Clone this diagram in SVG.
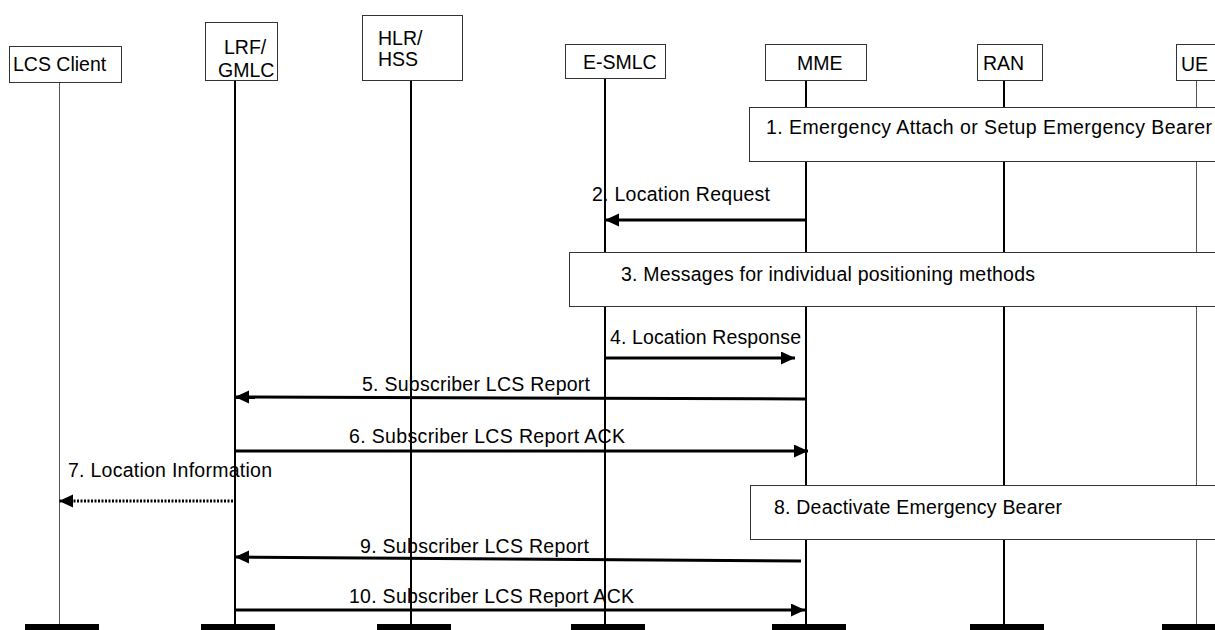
<svg xmlns="http://www.w3.org/2000/svg" width="1215" height="630" viewBox="0 0 1215 630">
<defs>
<style>
text{font-family:"Liberation Sans",Arial,sans-serif;font-size:19.5px;fill:#000}
.box{fill:#fff;stroke:#333;stroke-width:1}
.life{stroke:#000;stroke-width:2}
.thin{stroke:#555;stroke-width:1}
.bar{fill:#000}
.msg{stroke:#000;stroke-width:3;fill:none;marker-end:url(#ah)}
.dot{stroke:#000;stroke-width:3;fill:none;stroke-dasharray:2 1.5;marker-end:url(#ah)}
</style>
<marker id="ah" markerUnits="userSpaceOnUse" markerWidth="15" markerHeight="14" refX="14" refY="6.5" orient="auto">
<path d="M0,0 L14,6.5 L0,13 z" fill="#000"/>
</marker>
</defs>
<rect width="1215" height="630" fill="#fff"/>
<g id="lifelines">
<line class="thin" x1="59.5" y1="82" x2="59.5" y2="626"/>
<line class="life" x1="235" y1="80" x2="235" y2="626"/>
<line class="life" x1="411" y1="80" x2="411" y2="626"/>
<line class="life" x1="605" y1="78" x2="605" y2="626"/>
<line class="life" x1="806" y1="80" x2="806" y2="626"/>
<line class="life" x1="1004" y1="80" x2="1004" y2="626"/>
<line class="thin" x1="1196.5" y1="80" x2="1196.5" y2="626"/>
</g>
<g id="bars">
<rect class="bar" x="25" y="624" width="74" height="6"/>
<rect class="bar" x="201" y="624" width="74" height="6"/>
<rect class="bar" x="377" y="624" width="74" height="6"/>
<rect class="bar" x="571" y="624" width="74" height="6"/>
<rect class="bar" x="772" y="624" width="74" height="6"/>
<rect class="bar" x="970" y="624" width="74" height="6"/>
<rect class="bar" x="1162" y="624" width="60" height="6"/>
</g>
<g id="lcsclient"><rect class="box" x="9.5" y="46.5" width="112" height="36"/><text x="13" y="71">LCS Client</text></g>
<g id="gmlc"><rect class="box" x="205.5" y="22.5" width="72" height="58"/><text x="224" y="54">LRF/</text><text x="218" y="77">GMLC</text></g>
<g id="hlr"><rect class="box" x="362.5" y="15.5" width="100" height="65"/><text x="378" y="45">HLR/</text><text x="378" y="66">HSS</text></g>
<g id="esmlc"><rect class="box" x="565.5" y="44.5" width="100" height="34"/><text x="583" y="69">E-SMLC</text></g>
<g id="mme"><rect class="box" x="765.5" y="44.5" width="101" height="36"/><text x="797" y="70">MME</text></g>
<g id="ran"><rect class="box" x="977.5" y="44.5" width="65" height="36"/><text x="983" y="70">RAN</text></g>
<g id="ue"><rect class="box" x="1176.5" y="44.5" width="60" height="36"/><text x="1181" y="71">UE</text></g>
<g id="step1"><rect class="box" x="749.5" y="107.5" width="500" height="54"/><text x="766" y="134" textLength="446" lengthAdjust="spacing">1. Emergency Attach or Setup Emergency Bearer</text></g>
<g id="step3"><rect class="box" x="569.5" y="252.5" width="700" height="54"/><text x="621" y="281" textLength="414" lengthAdjust="spacing">3. Messages for individual positioning methods</text></g>
<g id="step8"><rect class="box" x="750.5" y="485.5" width="500" height="54"/><text x="774" y="514" textLength="288" lengthAdjust="spacing">8. Deactivate Emergency Bearer</text></g>
<g id="connectors">
<line class="msg" x1="806" y1="220" x2="605" y2="220"/>
<text x="592" y="201" textLength="178" lengthAdjust="spacing">2. Location Request</text>
<line class="msg" x1="605" y1="358" x2="795" y2="358"/>
<text x="610" y="344" textLength="191" lengthAdjust="spacing">4. Location Response</text>
<line class="msg" x1="805" y1="399" x2="235" y2="397"/>
<text x="362" y="391" textLength="228" lengthAdjust="spacing">5. Subscriber LCS Report</text>
<line class="msg" x1="235" y1="451" x2="808" y2="451"/>
<text x="349" y="443" textLength="276" lengthAdjust="spacing">6. Subscriber LCS Report ACK</text>
<line class="dot" x1="233" y1="501" x2="59" y2="501"/>
<text x="68" y="477" textLength="204" lengthAdjust="spacing">7. Location Information</text>
<line class="msg" x1="801" y1="561" x2="235" y2="557"/>
<text x="360" y="553" textLength="229" lengthAdjust="spacing">9. Subscriber LCS Report</text>
<line class="msg" x1="235" y1="610" x2="805" y2="610"/>
<text x="349" y="603" textLength="285" lengthAdjust="spacing">10. Subscriber LCS Report ACK</text>
</g>
</svg>
